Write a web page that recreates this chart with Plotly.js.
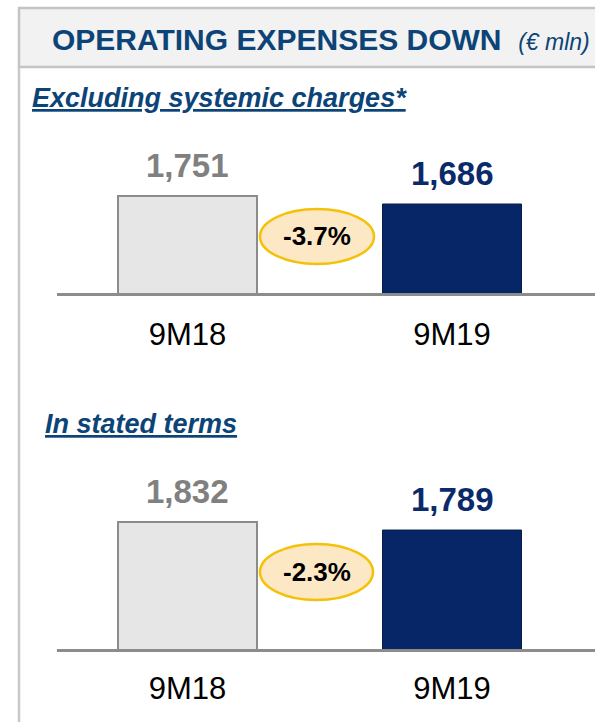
<!DOCTYPE html>
<html>
<head>
<meta charset="utf-8">
<script src="https://cdn.plot.ly/plotly-3.0.1.min.js"></script>
<style>
  html, body { margin: 0; padding: 0; background: #ffffff; }
  #chart { width: 595px; height: 722px; }
</style>
</head>
<body>
<div id="chart"></div>
<script>
// ---- Data ----
const categories = ['9M18', '9M19'];
const exclSystemic = [1751, 1686];
const stated = [1832, 1789];
const changes = ['-3.7%', '-2.3%'];
const subtitles = ['Excluding systemic charges*', 'In stated terms'];
const titleText = 'OPERATING EXPENSES DOWN';
const unitText = '(€ mln)';

// ---- Styling ----
const W = 595, H = 722;
const FONT = 'Liberation Sans, Arial, Helvetica, sans-serif';
const fx = x => x / W;
const fy = y => 1 - y / H;
const barFill = ['#e6e6e6', '#072668'];
const barLine = ['#8c8c8c', '#0b1c45'];
const barLineW = [2, 1];
const labelColor = ['#808080', '#0b2a6b'];
const titleColor = '#0c4477';

function barTrace(vals, xa, ya) {
  return {
    type: 'bar', x: categories, y: vals, xaxis: xa, yaxis: ya,
    width: 0.5255,
    marker: { color: barFill, line: { color: barLine, width: barLineW } },
    hoverinfo: 'none', showlegend: false
  };
}

const data = [barTrace(exclSystemic, 'x', 'y'), barTrace(stated, 'x2', 'y2')];

function xAxis(anchor, standoff) {
  return {
    domain: [fx(57), 1], type: 'category', range: [-0.4934, 1.5406],
    showline: true, linecolor: '#8c8c8c', linewidth: 3,
    showgrid: false, zeroline: false, ticks: '',
    tickfont: { family: FONT, size: 31, color: '#000000' },
    ticklabelstandoff: standoff, anchor: anchor, fixedrange: true
  };
}
function yAxis(d, r, anchor) {
  return {
    domain: d, range: r, visible: false, showgrid: false, zeroline: false,
    anchor: anchor, fixedrange: true
  };
}

const annotations = [];
// title
annotations.push({
  xref: 'paper', yref: 'paper', x: fx(321), y: fy(39), xanchor: 'center', yanchor: 'middle',
  showarrow: false,
  text: '<b>' + titleText + '</b>  <span style="font-size:23px"><i>' + unitText + '</i></span>',
  font: { family: FONT, size: 30, color: titleColor }
});
// subtitles
const subPos = [[30, 98], [43, 424]];
subtitles.forEach((s, i) => {
  annotations.push({
    xref: 'paper', yref: 'paper', x: fx(subPos[i][0]), y: fy(subPos[i][1]),
    xanchor: 'left', yanchor: 'middle', showarrow: false,
    text: '<b><i><u>' + s + '</u></i></b>',
    font: { family: FONT, size: 27, color: titleColor }
  });
});
// value labels
[[exclSystemic, 'x', 'y'], [stated, 'x2', 'y2']].forEach(([vals, xa, ya]) => {
  vals.forEach((v, i) => {
    annotations.push({
      xref: xa, yref: ya, x: categories[i], y: v, xanchor: 'center', yanchor: 'bottom',
      yshift: 10, showarrow: false,
      text: '<b>' + v.toLocaleString('en-US') + '</b>',
      font: { family: FONT, size: 33, color: labelColor[i] }
    });
  });
});
// change bubbles
const bubbles = [[260, 209, 374, 264], [260, 544, 373, 600]];
const shapes = [];
bubbles.forEach((b, i) => {
  shapes.push({
    type: 'circle', xref: 'paper', yref: 'paper',
    x0: fx(b[0]), x1: fx(b[2]), y0: fy(b[3]), y1: fy(b[1]),
    fillcolor: '#fde8c6', line: { color: '#f5c108', width: 2.5 }, layer: 'above'
  });
  annotations.push({
    xref: 'paper', yref: 'paper', x: fx((b[0] + b[2]) / 2), y: fy((b[1] + b[3]) / 2),
    xanchor: 'center', yanchor: 'middle', showarrow: false,
    text: '<b>' + changes[i] + '</b>',
    font: { family: FONT, size: 26, color: '#000000' }
  });
});
// header box
shapes.push({
  type: 'rect', xref: 'paper', yref: 'paper', x0: fx(19), x1: fx(610), y0: fy(67), y1: fy(8),
  fillcolor: '#f2f2f2', line: { color: '#c4c4c4', width: 2.5 }, layer: 'below'
});
// left border line
shapes.push({
  type: 'line', xref: 'paper', yref: 'paper', x0: fx(19), x1: fx(19), y0: fy(67), y1: fy(730),
  line: { color: '#c8c8c8', width: 2.5 }, layer: 'below'
});

const layout = {
  width: W, height: H,
  margin: { l: 0, r: 0, t: 0, b: 0 },
  paper_bgcolor: '#ffffff', plot_bgcolor: 'rgba(0,0,0,0)',
  showlegend: false, bargap: 0,
  font: { family: FONT },
  xaxis: xAxis('y', 12),
  yaxis: yAxis([fy(293), fy(140)], [963, 2206], 'x'),
  xaxis2: xAxis('y2', 10),
  yaxis2: yAxis([fy(649), fy(470)], [1149, 2112], 'x2'),
  annotations: annotations,
  shapes: shapes
};

Plotly.newPlot('chart', data, layout, { displayModeBar: false, staticPlot: true });
</script>
</body>
</html>
